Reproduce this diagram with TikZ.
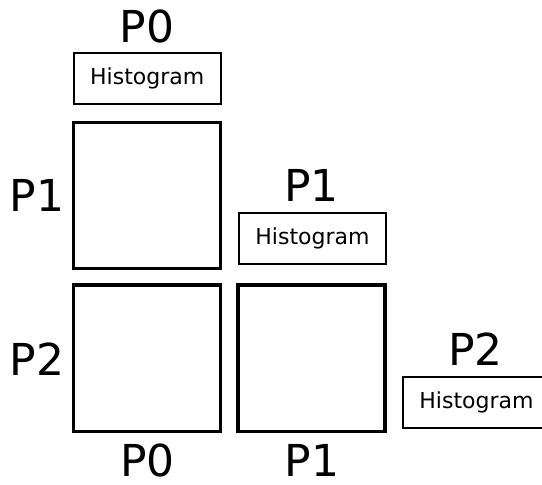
\documentclass[tikz,border=0pt]{standalone}
\usepackage{fontspec}
\setmainfont{DejaVu Sans}
\begin{document}
\begin{tikzpicture}[x=1pt,y=-1pt,
  cell/.style={draw=black,line width=3.4pt,fill=none},
  histbox/.style={draw=black,line width=1.9pt,inner sep=0pt,minimum width=147pt,minimum height=51pt,font=\fontsize{22}{24}\selectfont},
  plabel/.style={anchor=base,inner sep=0pt,font=\fontsize{44}{48}\selectfont}]
\useasboundingbox (0,0) rectangle (542,485);
% big cells
\draw[cell] (73.5,122.5) rectangle (220.5,268.5);
\draw[cell] (73.5,285) rectangle (220.5,431.5);
\draw[cell] (238,285) rectangle (385,431.5);
\node (c1) at (147,195.5) {};
\node (c2) at (147,358) {};
\node (c3) at (311.5,358) {};
% histogram boxes
\node[histbox] (h0) at (147.25,78.5) {Histogram};
\node[histbox] (h1) at (312.5,238.25) {Histogram};
\node[histbox] (h2) at (476.5,402.25) {Histogram};
% labels
\node[plabel] (t0) at (147,42) {P0};
\node[plabel] (t1) at (311.5,201.5) {P1};
\node[plabel] (t2) at (475.5,365) {P2};
\node[plabel] (l1) at (37,211.5) {P1};
\node[plabel] (l2) at (37,375) {P2};
\node[plabel] (b0) at (147.5,476.5) {P0};
\node[plabel] (b1) at (312,476.5) {P1};
\end{tikzpicture}
\end{document}
